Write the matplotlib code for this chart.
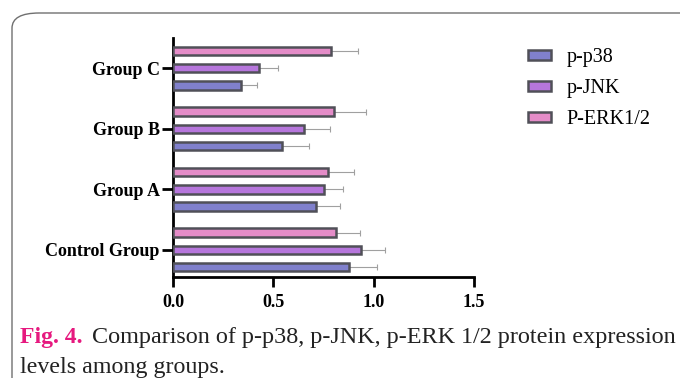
import matplotlib.pyplot as plt
import numpy as np
from matplotlib.patches import FancyBboxPatch

# data
groups = ['Control Group', 'Group A', 'Group B', 'Group C']
series = ['p-p38', 'p-JNK', 'P-ERK1/2']
p38 = [0.875, 0.713, 0.545, 0.34]
jnk = [0.935, 0.75, 0.655, 0.43]
erk = [0.81, 0.773, 0.80, 0.785]
p38_err = [0.14, 0.12, 0.135, 0.08]
jnk_err = [0.12, 0.095, 0.125, 0.095]
erk_err = [0.12, 0.13, 0.16, 0.135]
xticks = [0.0, 0.5, 1.0, 1.5]

colors = ['#8080cc', '#b676dc', '#e48cc8']
edge = '#505058'

plt.rcParams['font.family'] = ['Liberation Serif', 'DejaVu Serif']

fig = plt.figure(figsize=(6.8, 3.78), dpi=100)
ax = fig.add_axes([173 / 680, 1 - 277 / 378, 301 / 680, 239 / 378])

y = np.arange(len(groups))
offs = [-0.283, 0.0, 0.283]
vals = [p38, jnk, erk]
errs = [p38_err, jnk_err, erk_err]
for i in range(3):
    ax.barh(y + offs[i], vals[i], height=0.14, color=colors[i],
            edgecolor=edge, linewidth=1.8, label=series[i], zorder=3)
    ax.errorbar(vals[i], y + offs[i], xerr=[np.zeros(len(groups)), errs[i]],
                fmt='none', ecolor='#a0a0a0', elinewidth=0.8, capsize=2.5,
                capthick=0.8, zorder=2)

ax.set_ylim(-0.45, 3.5)
ax.set_xlim(0, 1.5)
ax.set_xticks(xticks)
ax.set_xticklabels([f'{v:.1f}' for v in xticks], fontweight='bold', fontsize=13)
ax.set_yticks(y)
ax.set_yticklabels(groups, fontweight='bold', fontsize=13)
for s in ['top', 'right']:
    ax.spines[s].set_visible(False)
for s in ['left', 'bottom']:
    ax.spines[s].set_linewidth(2)
ax.tick_params(axis='y', width=2, length=8, pad=1.5)
ax.tick_params(axis='x', width=2, length=7, pad=5)

leg = fig.legend(loc='upper left', bbox_to_anchor=(510 / 680, 1 - 30 / 378),
                 frameon=False, fontsize=14.5, handlelength=1.15, handleheight=0.4,
                 labelspacing=0.6, handletextpad=0.75)

# rounded frame around figure
frame = FancyBboxPatch((12 / 680, -0.1), 1.2, 1 - 13 / 378 + 0.1,
                       boxstyle='round,pad=0,rounding_size=0.04',
                       transform=fig.transFigure, facecolor='none',
                       edgecolor='#707070', linewidth=1.0)
fig.patches.append(frame)

# caption
fig.text(20 / 680, 1 - 343 / 378, 'Fig. 4.', color='#e6197f', fontweight='bold',
         fontsize=17, va='baseline')
fig.text(92 / 680, 1 - 343 / 378,
         'Comparison of p-p38, p-JNK, p-ERK 1/2 protein expression',
         fontsize=17.4, va='baseline', color='#222222')
fig.text(20 / 680, 1 - 373 / 378, 'levels among groups.', fontsize=17.3,
         va='baseline', color='#222222')

fig.savefig('out.png', dpi=100)
